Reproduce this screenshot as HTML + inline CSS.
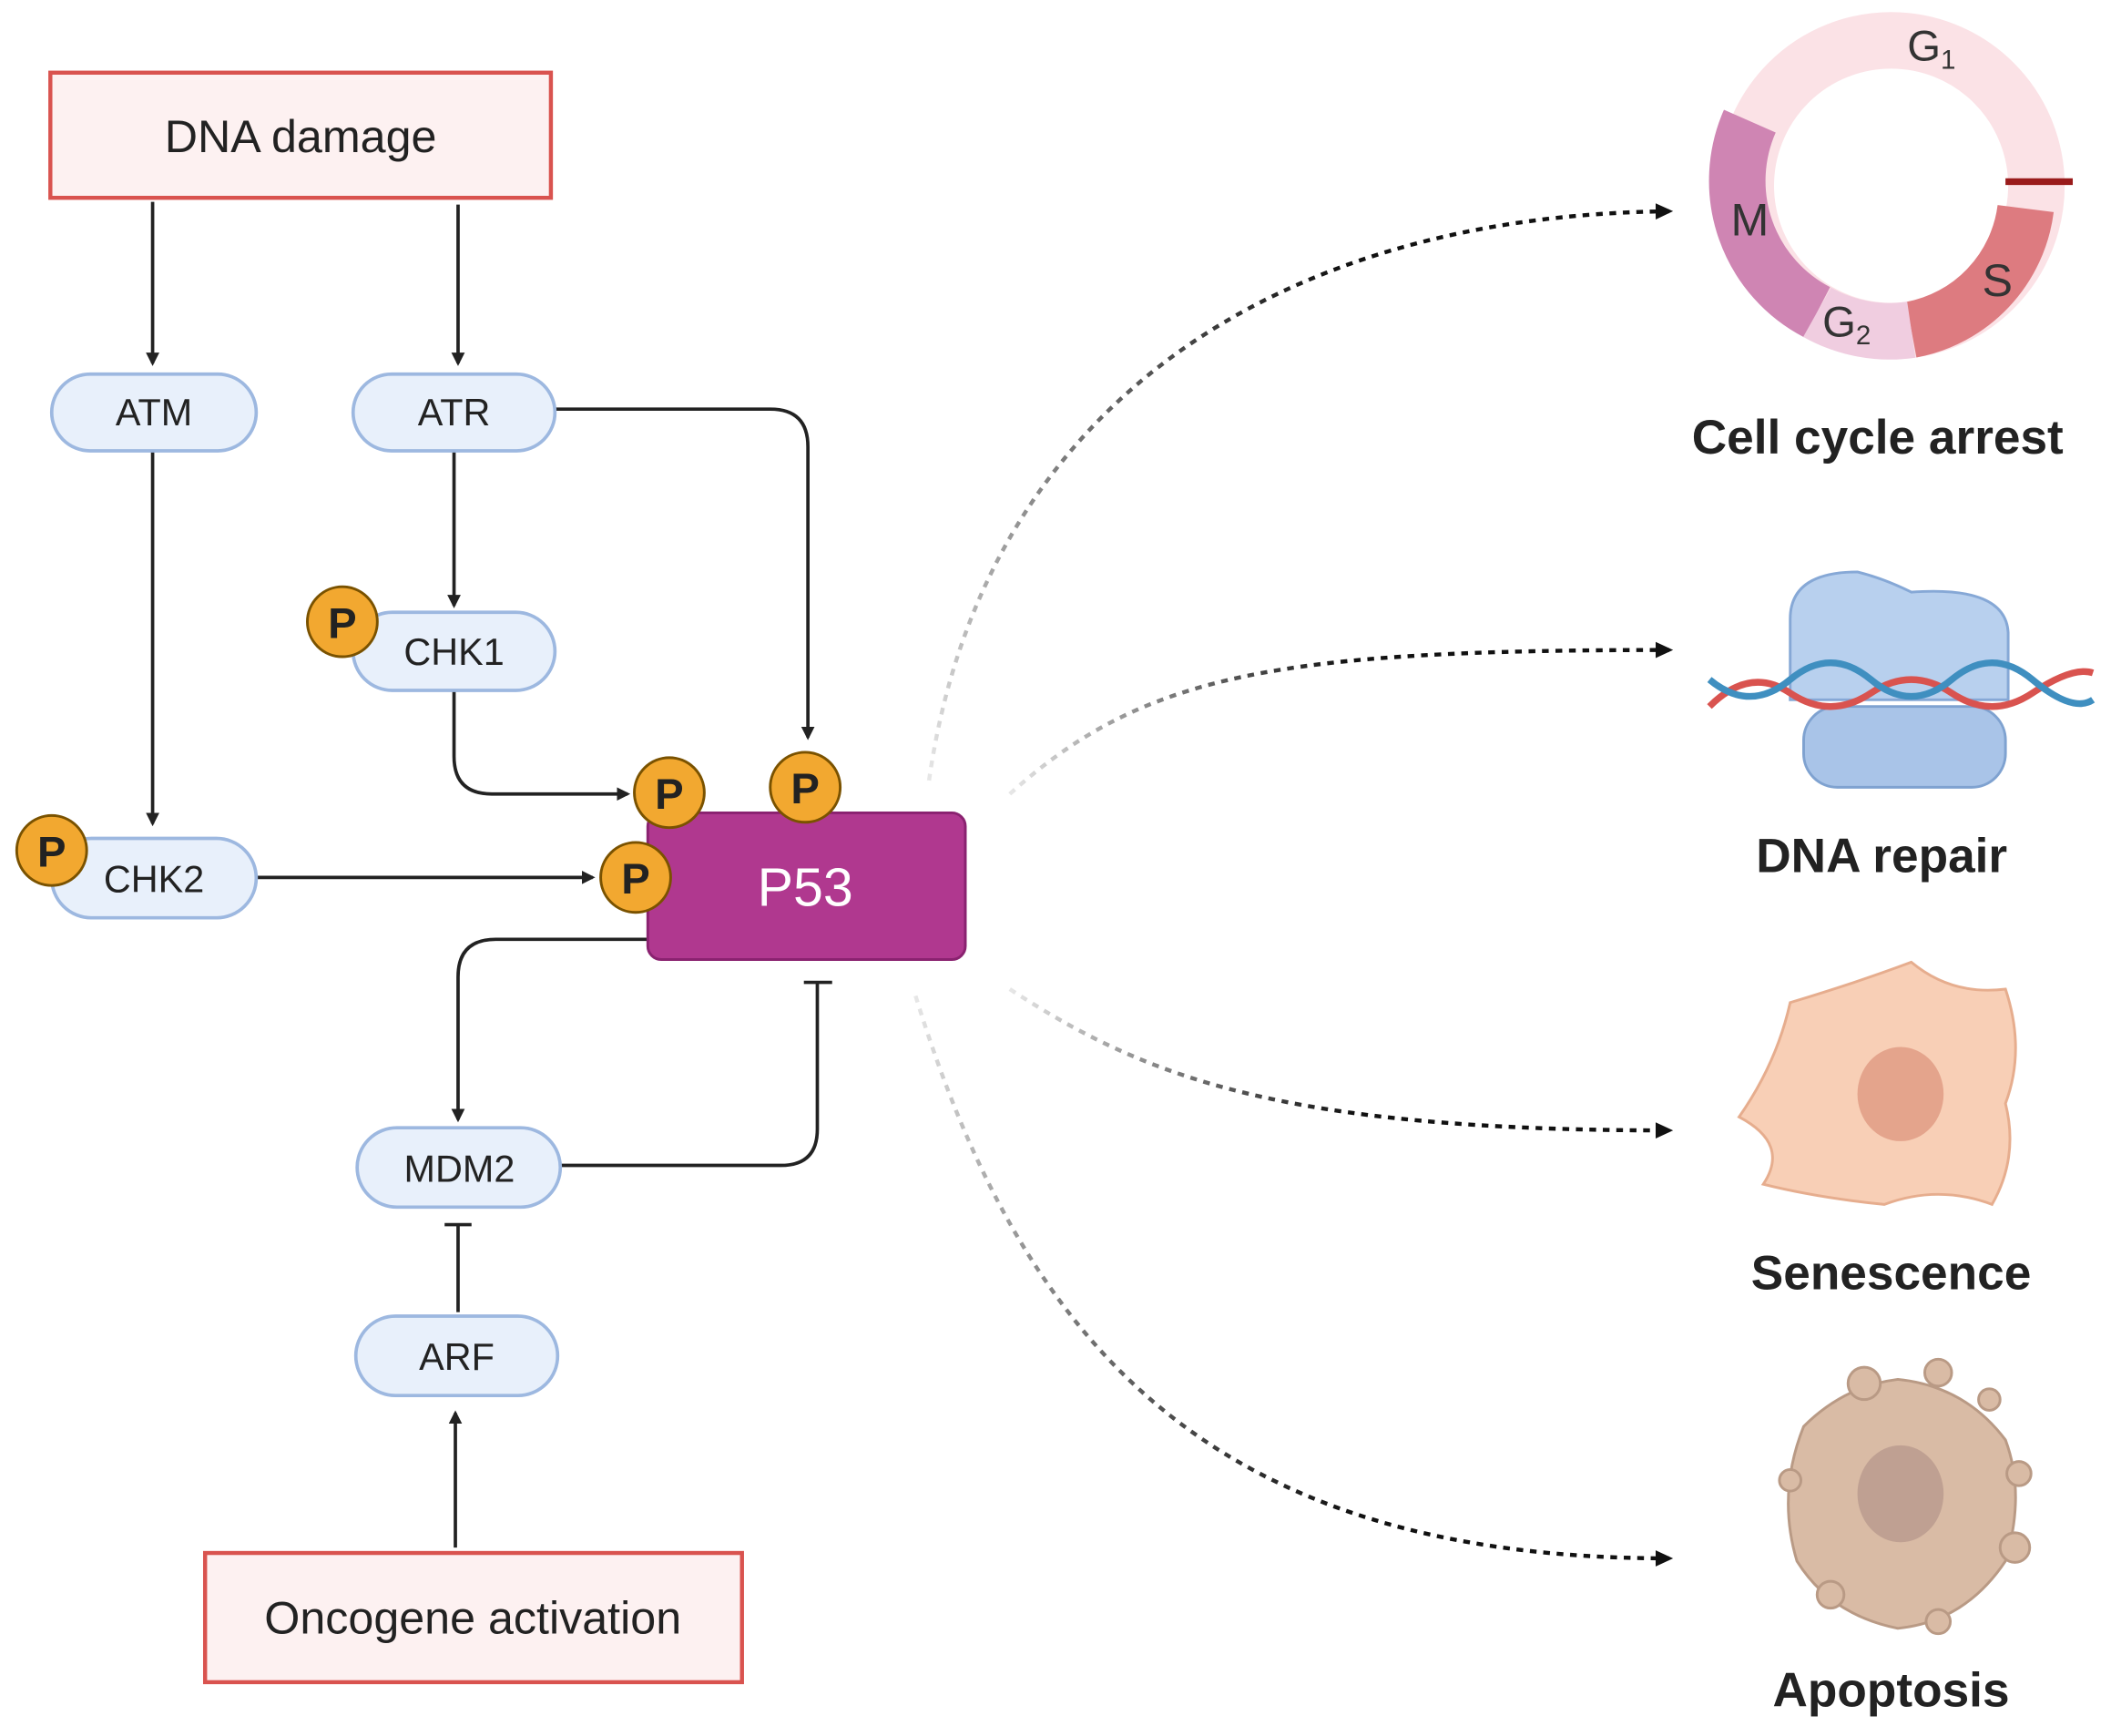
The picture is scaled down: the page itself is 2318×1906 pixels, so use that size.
<!DOCTYPE html>
<html><head><meta charset="utf-8"><style>
html,body{margin:0;padding:0;background:#fff;}
svg{display:block;}
text{font-family:"Liberation Sans",sans-serif;}
</style></head><body>
<svg width="2318" height="1906" viewBox="0 0 1568 1290" xmlns="http://www.w3.org/2000/svg">
<defs>
<marker id="ah" markerWidth="10" markerHeight="10" refX="8" refY="5" orient="auto" markerUnits="userSpaceOnUse" viewBox="0 0 10 10"><path d="M0,0 L10,5 L0,10 z" fill="#222"/></marker>
<marker id="ahd" markerWidth="14" markerHeight="14" refX="10" refY="7" orient="auto" markerUnits="userSpaceOnUse" viewBox="0 0 14 14"><path d="M0,1 L13,7 L0,13 z" fill="#111"/></marker>
<linearGradient id="g1" x1="690" y1="580" x2="1000" y2="200" gradientUnits="userSpaceOnUse"><stop offset="0" stop-color="#111" stop-opacity="0.1"/><stop offset="1" stop-color="#111"/></linearGradient>
<linearGradient id="g2" x1="750" y1="590" x2="1000" y2="483" gradientUnits="userSpaceOnUse"><stop offset="0" stop-color="#111" stop-opacity="0.1"/><stop offset="1" stop-color="#111"/></linearGradient>
<linearGradient id="g3" x1="750" y1="735" x2="1000" y2="840" gradientUnits="userSpaceOnUse"><stop offset="0" stop-color="#111" stop-opacity="0.1"/><stop offset="1" stop-color="#111"/></linearGradient>
<linearGradient id="g4" x1="680" y1="740" x2="1000" y2="1130" gradientUnits="userSpaceOnUse"><stop offset="0" stop-color="#111" stop-opacity="0.1"/><stop offset="1" stop-color="#111"/></linearGradient>
</defs>

<!-- boxes -->
<rect x="37" y="54" width="372" height="93" fill="#fdf1f1" stroke="#d9534f" stroke-width="3"/>
<text x="223" y="113" font-size="34" text-anchor="middle" fill="#222">DNA damage</text>
<rect x="152" y="1154" width="399" height="96" fill="#fdf1f1" stroke="#d9534f" stroke-width="3"/>
<text x="351" y="1214" font-size="34" text-anchor="middle" fill="#222">Oncogene activation</text>

<!-- connectors -->
<g stroke="#222" stroke-width="2.5" fill="none">
<line x1="113" y1="150" x2="113" y2="270" marker-end="url(#ah)"/>
<line x1="340" y1="152" x2="340" y2="270" marker-end="url(#ah)"/>
<line x1="113" y1="335" x2="113" y2="612" marker-end="url(#ah)"/>
<line x1="337" y1="335" x2="337" y2="450" marker-end="url(#ah)"/>
<path d="M412,304 H572 Q600,304 600,332 V548" marker-end="url(#ah)"/>
<path d="M337,513 V562 Q337,590 365,590 H466" marker-end="url(#ah)"/>
<line x1="190" y1="652" x2="440" y2="652" marker-end="url(#ah)"/>
<path d="M481,698 H368 Q340,698 340,726 V832" marker-end="url(#ah)"/>
<path d="M416,866 H580 Q607,866 607,839 V730"/>
<line x1="597" y1="730" x2="618" y2="730"/>
<line x1="340" y1="975" x2="340" y2="910"/>
<line x1="330" y1="910" x2="350" y2="910"/>
<line x1="338" y1="1150" x2="338" y2="1050" marker-end="url(#ah)"/>
</g>

<!-- pills -->
<g fill="#e8f0fb" stroke="#9db8e0" stroke-width="2.5">
<rect x="38" y="278" width="152" height="57" rx="28.5"/>
<rect x="262" y="278" width="150" height="57" rx="28.5"/>
<rect x="262" y="455" width="150" height="58" rx="29"/>
<rect x="38" y="623" width="152" height="59" rx="29.5"/>
<rect x="265" y="838" width="151" height="59" rx="29.5"/>
<rect x="264" y="978" width="150" height="59" rx="29.5"/>
</g>
<g font-size="28" text-anchor="middle" fill="#222">
<text x="114" y="316">ATM</text>
<text x="337" y="316">ATR</text>
<text x="337" y="494">CHK1</text>
<text x="114" y="663">CHK2</text>
<text x="341" y="878">MDM2</text>
<text x="339" y="1018">ARF</text>
</g>

<!-- P53 -->
<rect x="481" y="604" width="236" height="109" rx="10" fill="#b0388f" stroke="#8a2270" stroke-width="2"/>
<text x="598" y="673" font-size="40" text-anchor="middle" fill="#fff">P53</text>

<!-- P circles -->
<g fill="#f2a830" stroke="#7a5200" stroke-width="2">
<circle cx="254" cy="462" r="26"/>
<circle cx="497" cy="589" r="26"/>
<circle cx="598" cy="585" r="26"/>
<circle cx="472" cy="652" r="26"/>
<circle cx="38" cy="632" r="26"/>
</g>
<g font-size="32" font-weight="bold" text-anchor="middle" fill="#222">
<text x="254" y="474">P</text>
<text x="497" y="601">P</text>
<text x="598" y="597">P</text>
<text x="472" y="664">P</text>
<text x="38" y="644">P</text>
</g>

<!-- dotted curves -->
<g fill="none" stroke-width="3" stroke-dasharray="5,5">
<path d="M690,580 C730,300 950,160 1240,157" stroke="url(#g1)" marker-end="url(#ahd)"/>
<path d="M750,590 C850,500 950,483 1240,483" stroke="url(#g2)" marker-end="url(#ahd)"/>
<path d="M750,735 C850,800 950,840 1240,840" stroke="url(#g3)" marker-end="url(#ahd)"/>
<path d="M680,740 C760,1000 900,1158 1240,1158" stroke="url(#g4)" marker-end="url(#ahd)"/>
</g>

<!-- cell cycle -->
<g>
<circle cx="1405" cy="138" r="108" fill="none" stroke="#fbe2e6" stroke-width="42"/>
<path d="M1300,90 A110,110 0 0,0 1350,232" fill="none" stroke="#cf85b3" stroke-width="42"/>
<path d="M1505,155 A105,105 0 0,1 1420,245" fill="none" stroke="#dd7b80" stroke-width="42"/>
<path d="M1350,232 A110,110 0 0,0 1420,245" fill="none" stroke="#f0cde0" stroke-width="42"/>
<path d="M1490,135 L1540,135" stroke="#9a1b1b" stroke-width="5"/>
<text x="1435" y="45" font-size="32" fill="#333" text-anchor="middle">G<tspan font-size="20" dy="6">1</tspan></text>
<text x="1300" y="175" font-size="34" fill="#333" text-anchor="middle">M</text>
<text x="1484" y="220" font-size="34" fill="#333" text-anchor="middle">S</text>
<text x="1372" y="250" font-size="32" fill="#333" text-anchor="middle">G<tspan font-size="20" dy="6">2</tspan></text>
</g>
<text x="1395" y="337" font-size="36" font-weight="bold" text-anchor="middle" fill="#222">Cell cycle arrest</text>

<!-- DNA repair -->
<g>
<rect x="1340" y="525" width="150" height="60" rx="25" fill="#a9c4e8" stroke="#7fa2d0" stroke-width="2"/>
<path d="M1330,460 Q1330,425 1380,425 Q1400,430 1420,440 Q1490,435 1492,470 L1492,520 L1330,520 Z" fill="#b8d0ee" stroke="#86a8d6" stroke-width="2"/>
<path d="M1270,525 Q1300,495 1330,515 T1390,515 T1450,515 T1510,515 T1555,500" fill="none" stroke="#d9534f" stroke-width="5"/>
<path d="M1270,505 Q1300,530 1330,505 T1390,505 T1450,505 T1510,505 T1555,520" fill="none" stroke="#3f8fc0" stroke-width="5"/>
</g>
<text x="1398" y="648" font-size="36" font-weight="bold" text-anchor="middle" fill="#222">DNA repair</text>

<!-- Senescence -->
<g>
<path d="M1330,745 Q1380,730 1420,715 Q1450,740 1490,735 Q1505,780 1490,820 Q1500,860 1480,895 Q1440,880 1400,895 Q1350,890 1310,880 Q1330,850 1292,830 Q1320,790 1330,745 Z" fill="#f8cfb6" stroke="#e6ad8e" stroke-width="2"/>
<ellipse cx="1412" cy="813" rx="32" ry="35" fill="#e4a48c"/>
</g>
<text x="1405" y="958" font-size="36" font-weight="bold" text-anchor="middle" fill="#222">Senescence</text>

<!-- Apoptosis -->
<g fill="#d9bba5" stroke="#b99a85" stroke-width="2">
<path d="M1340,1060 Q1370,1030 1410,1025 Q1460,1030 1490,1070 Q1505,1110 1490,1160 Q1460,1205 1410,1210 Q1360,1200 1335,1160 Q1320,1110 1340,1060 Z"/>
<circle cx="1385" cy="1028" r="12"/><circle cx="1440" cy="1020" r="10"/><circle cx="1478" cy="1040" r="8"/>
<circle cx="1500" cy="1095" r="9"/><circle cx="1497" cy="1150" r="11"/><circle cx="1330" cy="1100" r="8"/>
<circle cx="1360" cy="1185" r="10"/><circle cx="1440" cy="1205" r="9"/>
<ellipse cx="1412" cy="1110" rx="32" ry="36" fill="#bfa092" stroke="none"/>
</g>
<text x="1405" y="1268" font-size="36" font-weight="bold" text-anchor="middle" fill="#222">Apoptosis</text>
</svg>
</body></html>
